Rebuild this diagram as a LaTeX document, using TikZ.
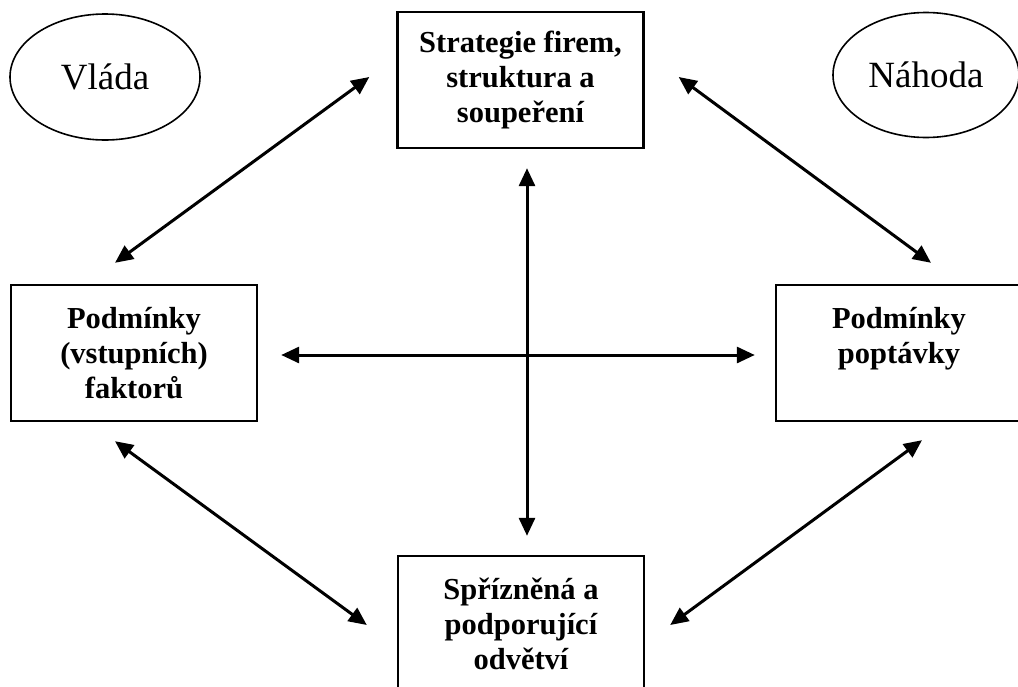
\documentclass[tikz,border=0pt]{standalone}
\usepackage{fontspec}
\setmainfont{Liberation Serif}
\usetikzlibrary{arrows.meta,shapes.geometric,calc}
\tikzset{
  boxnode/.style={draw, line width=2.4pt, rectangle, minimum width=246pt, minimum height=136pt,
    align=center, inner sep=0pt, font=\fontsize{30.5}{35}\selectfont\bfseries},
  ovalnode/.style={draw, line width=1.6pt, ellipse, inner sep=0pt,
    font=\fontsize{37}{42}\selectfont},
  arr/.style={line width=3pt, {Triangle[length=18pt,width=16pt]}-{Triangle[length=18pt,width=16pt]}}
}
\begin{document}
\begin{tikzpicture}[x=1pt,y=-1pt]
\useasboundingbox (0,0) rectangle (1018,686);
\clip (0,0) rectangle (1018,686);
\node[ovalnode, minimum width=190pt, minimum height=126pt] (vlada) at (105,77) {Vláda};
\node[ovalnode, minimum width=186pt, minimum height=125pt] (nahoda) at (926,75) {Náhoda};
\node[boxnode] (tbox) at (520.5,80) {Strategie firem,\\struktura a\\soupeření};
\node[boxnode] (lbox) at (134,353) {Podmínky\\(vstupních)\\faktorů};
\node[boxnode] (rbox) at (899,353) {Podmínky\\poptávky\\\mbox{}};
\node[boxnode] (bbox) at (521,624) {Spřízněná a\\podporující\\odvětví};
% connectors
\coordinate (c) at (527,355);
\draw[arr] ($(lbox.north)+(-19,-21)$) -- ($(tbox.west)+(-27,-3)$);
\draw[arr] ($(tbox.east)+(34,-3)$) -- ($(rbox.north)+(32,-21)$);
\draw[arr] (tbox.south -| c) ++(0,19) -- ($(bbox.north -| c)+(0,-19)$);
\draw[arr] ($(lbox.east |- c)+(23,0)$) -- ($(rbox.west |- c)+(-20,0)$);
\draw[arr] ($(lbox.south)+(-19,19)$) -- ($(bbox.west)+(-30,1)$);
\draw[arr] ($(bbox.east)+(25,1)$) -- ($(rbox.south)+(23,18)$);
\end{tikzpicture}
\end{document}
